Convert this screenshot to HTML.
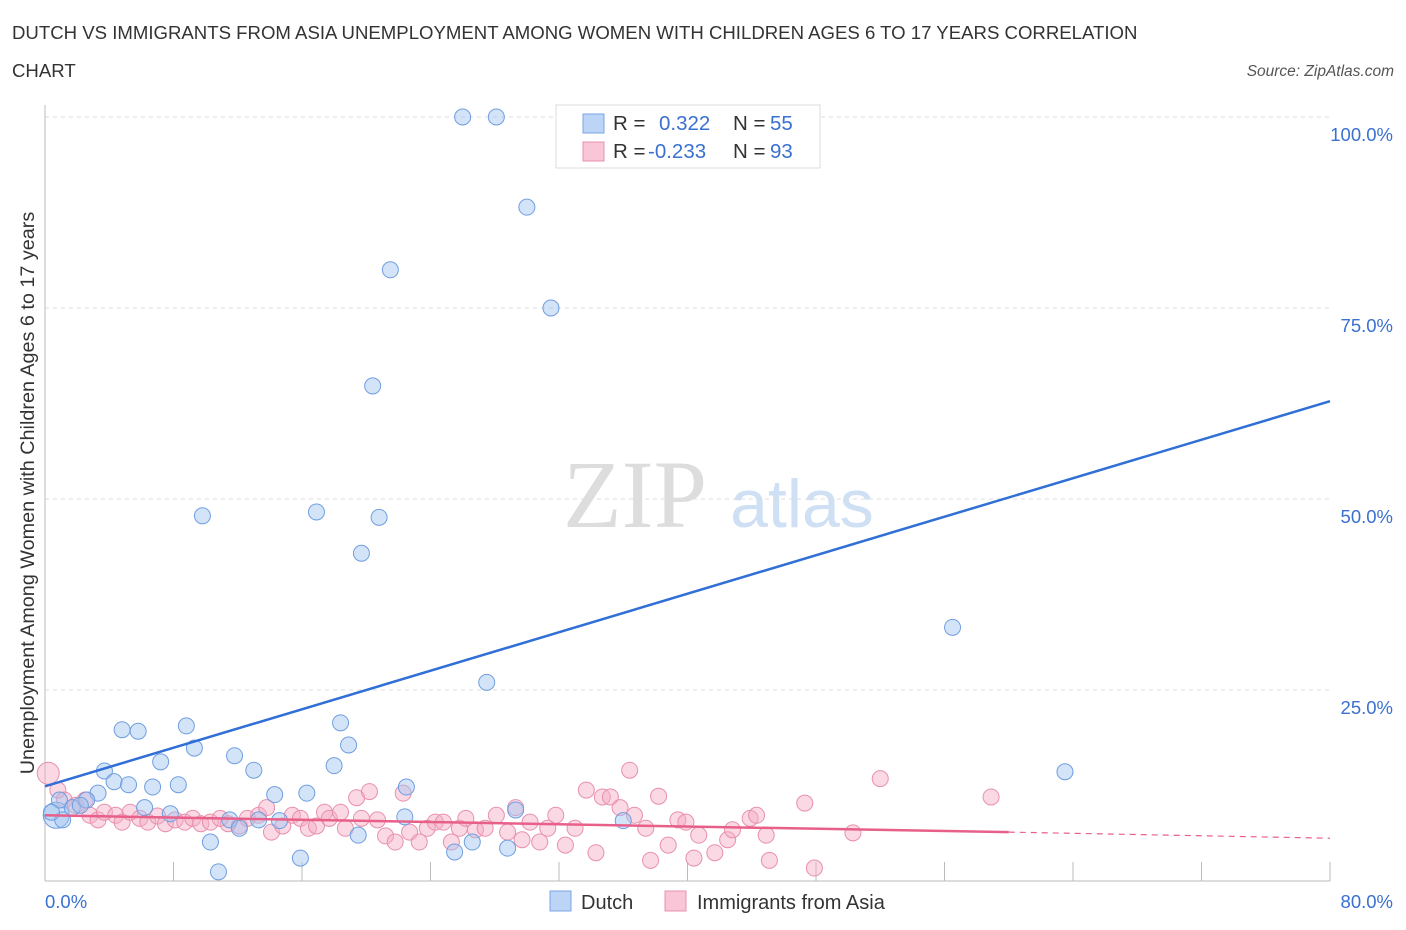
<!DOCTYPE html>
<html><head><meta charset="utf-8">
<style>
body{margin:0;background:#fff;font-family:"Liberation Sans",sans-serif;}
#wrap{position:relative;width:1406px;height:930px;overflow:hidden;}
</style></head>
<body>
<div id="wrap">
<svg id="svg" width="1406" height="930" xmlns="http://www.w3.org/2000/svg">
<text x="12" y="39" font-size="18.6" fill="#333">DUTCH VS IMMIGRANTS FROM ASIA UNEMPLOYMENT AMONG WOMEN WITH CHILDREN AGES 6 TO 17 YEARS CORRELATION</text>
<text x="12" y="77" font-size="18.6" fill="#333">CHART</text>
<text x="1394" y="76" font-size="15.5" fill="#555" font-style="italic" text-anchor="end">Source: ZipAtlas.com</text>
<text x="34" y="493" font-size="19.8" fill="#333" text-anchor="middle" transform="rotate(-90 34 493)">Unemployment Among Women with Children Ages 6 to 17 years</text>
<g>
<text x="635" y="527" font-size="96" fill="#ddd" font-family="Liberation Serif,serif" text-anchor="middle">ZIP</text>
<text x="802" y="527" font-size="68" fill="#cfe0f4" text-anchor="middle">atlas</text>
</g>
<g id="grid"></g>
<g id="axes"></g>
<g id="pts"></g>
<g id="lines"></g>
<g>
<rect x="556" y="105" width="264" height="63" fill="#fff" stroke="#ddd"/>
<rect x="583" y="114" width="21" height="19" fill="#bcd4f5" stroke="#7aa6e6"/>
<text x="613" y="130" font-size="20.5" fill="#333">R =</text>
<text x="659" y="130" font-size="20.5" fill="#3a70d0">0.322</text>
<text x="733" y="130" font-size="20.5" fill="#333">N =</text>
<text x="770" y="130" font-size="20.5" fill="#3a70d0">55</text>
<rect x="583" y="142" width="21" height="19" fill="#f8c6d6" stroke="#e890ad"/>
<text x="613" y="158" font-size="20.5" fill="#333">R =</text>
<text x="648" y="158" font-size="20.5" fill="#3a70d0">-0.233</text>
<text x="733" y="158" font-size="20.5" fill="#333">N =</text>
<text x="770" y="158" font-size="20.5" fill="#3a70d0">93</text>
</g>
<g>
<rect x="550" y="891" width="21" height="20" fill="#bcd4f5" stroke="#7aa6e6"/>
<text x="581" y="909" font-size="20" fill="#333">Dutch</text>
<rect x="665" y="891" width="21" height="20" fill="#f8c6d6" stroke="#e890ad"/>
<text x="697" y="909" font-size="20" fill="#333">Immigrants from Asia</text>
</g>
</svg>
</div>
<script>
const yTicks=[25,50,75,100];
const xTickCount=[0,8,16,24,32,40,48,56,64,72,80];
const dutchX=[26.0,28.1,30.0,21.5,31.5,20.4,9.8,16.9,20.8,19.7,56.5,27.5,63.5,4.8,5.8,8.8,9.3,18.4,18.9,7.2,11.8,13.0,18.0,3.7,4.3,5.2,6.7,8.3,3.3,2.6,22.5,14.3,16.3,6.2,7.8,11.5,13.3,14.6,22.4,29.3,36.0,19.5,10.3,15.9,10.8,25.5,26.6,28.8,0.7,1.1,1.7,2.2,0.9,12.1,0.4];
const dutchY=[100,100,88.2,80.0,75.0,64.8,47.8,48.3,47.6,42.9,33.2,26.0,14.3,19.8,19.6,20.3,17.4,20.7,17.8,15.6,16.4,14.5,15.1,14.4,13.0,12.6,12.3,12.6,11.5,10.6,12.3,11.3,11.5,9.6,8.8,8.0,8.0,7.9,8.4,9.3,7.9,6.0,5.1,3.0,1.2,3.8,5.1,4.3,8.6,8.0,9.6,9.9,10.6,6.9,9.0];
const asiaX=[0.2,0.8,1.2,1.9,2.5,2.8,3.3,3.7,4.4,4.8,5.3,5.9,6.4,7.0,7.5,8.1,8.7,9.2,9.7,10.3,10.9,11.4,12.1,12.6,13.3,13.8,14.1,14.8,15.4,15.9,16.4,16.9,17.4,17.7,18.4,18.7,19.4,19.7,20.2,20.7,21.2,21.8,22.3,22.7,23.3,23.8,24.3,24.8,25.3,25.8,26.2,26.8,27.4,28.1,28.8,29.3,29.7,30.2,30.8,31.3,31.8,32.4,33.0,33.7,34.3,34.7,35.2,35.8,36.4,36.7,37.4,37.7,38.2,38.8,39.4,39.9,40.4,40.7,41.7,42.5,42.8,43.9,44.3,44.9,45.1,47.3,47.9,50.3,52.0,58.9];
const asiaY=[14.1,11.9,10.6,9.9,10.6,8.6,8.0,9.0,8.6,7.7,9.0,8.2,7.7,8.5,7.5,8.0,7.7,8.2,7.5,7.7,8.2,7.5,7.2,8.2,8.6,9.6,6.4,7.2,8.6,8.2,6.9,7.2,9.0,8.2,9.0,6.9,10.9,8.2,11.7,8.0,5.9,5.1,11.5,6.4,5.1,6.9,7.7,7.7,5.1,6.9,8.2,6.7,6.9,8.6,6.4,9.6,5.4,7.7,5.1,6.9,8.6,4.7,6.9,11.9,3.7,11.0,11.0,9.6,14.5,8.6,6.9,2.7,11.1,4.7,8.0,7.7,3.0,6.0,3.7,5.4,6.7,8.2,8.6,6.0,2.7,10.2,1.7,6.3,13.4,11.0];
const dutchTrend=[12.4,62.8];
const asiaTrend=[8.6,6.4,5.6];
const asiaSolidEnd=60;
const NS="http://www.w3.org/2000/svg";
const X=v=>45+v/80*1285, Y=v=>881-v/100*764;
function mk(tag,attrs,parent){const e=document.createElementNS(NS,tag);for(const k in attrs)e.setAttribute(k,attrs[k]);parent.appendChild(e);return e;}
const grid=document.getElementById('grid'),axes=document.getElementById('axes');
yTicks.forEach(t=>{
 const l=mk('line',{x1:45,x2:1330,y1:Y(t),y2:Y(t),stroke:'#ddd','stroke-dasharray':'4,4'},grid);
 
 
 const tx=mk('text',{x:1393,y:Y(t)+24,'font-size':18.5,fill:'#3a70d0','text-anchor':'end'},axes);
 tx.textContent=t.toFixed(1)+'%';
 
 
});
const ax=mk('line',{x1:45,x2:1330,y1:881,y2:881,stroke:'#bbb'},axes);


const ay=mk('line',{x1:45,x2:45,y1:105,y2:881,stroke:'#bbb'},axes);


xTickCount.forEach(t=>{
 const l=mk('line',{x1:X(t),x2:X(t),y1:862,y2:881,stroke:'#bbb'},axes);
 
 
});
[[0,'0.0%','start',45],[80,'80.0%','end',1393]].forEach(a=>{
 const tx=mk('text',{x:a[3],y:908,'font-size':18.5,fill:'#3a70d0','text-anchor':a[2]},axes);
 tx.textContent=a[1];
 
 
});
const pts=document.getElementById('pts');
asiaX.forEach((v,i)=>{
 const c=mk('circle',{cx:X(v),cy:Y(asiaY[i]),r:i==0?11:8,fill:'rgba(244,170,195,0.45)',stroke:'#e890ad','stroke-width':1},pts);
 
 
});
dutchX.forEach((v,i)=>{
 const c=mk('circle',{cx:X(v),cy:Y(dutchY[i]),r:i==48?13:8,fill:'rgba(160,195,240,0.45)',stroke:'#6f9ee0','stroke-width':1},pts);
 
 
});
const lines=document.getElementById('lines');
const bl=mk('line',{x1:X(0),y1:Y(dutchTrend[0]),x2:X(80),y2:Y(dutchTrend[1]),stroke:'#2f6fd6','stroke-width':2.5},lines);


const pl=mk('line',{x1:X(0),y1:Y(asiaTrend[0]),x2:X(asiaSolidEnd),y2:Y(asiaTrend[1]),stroke:'#e8608a','stroke-width':2.5},lines);


const pd=mk('line',{x1:X(asiaSolidEnd),y1:Y(asiaTrend[1]),x2:X(80),y2:Y(asiaTrend[2]),stroke:'#e8608a','stroke-width':1.2,'stroke-dasharray':'6,5'},lines);


</script>
</body></html>
